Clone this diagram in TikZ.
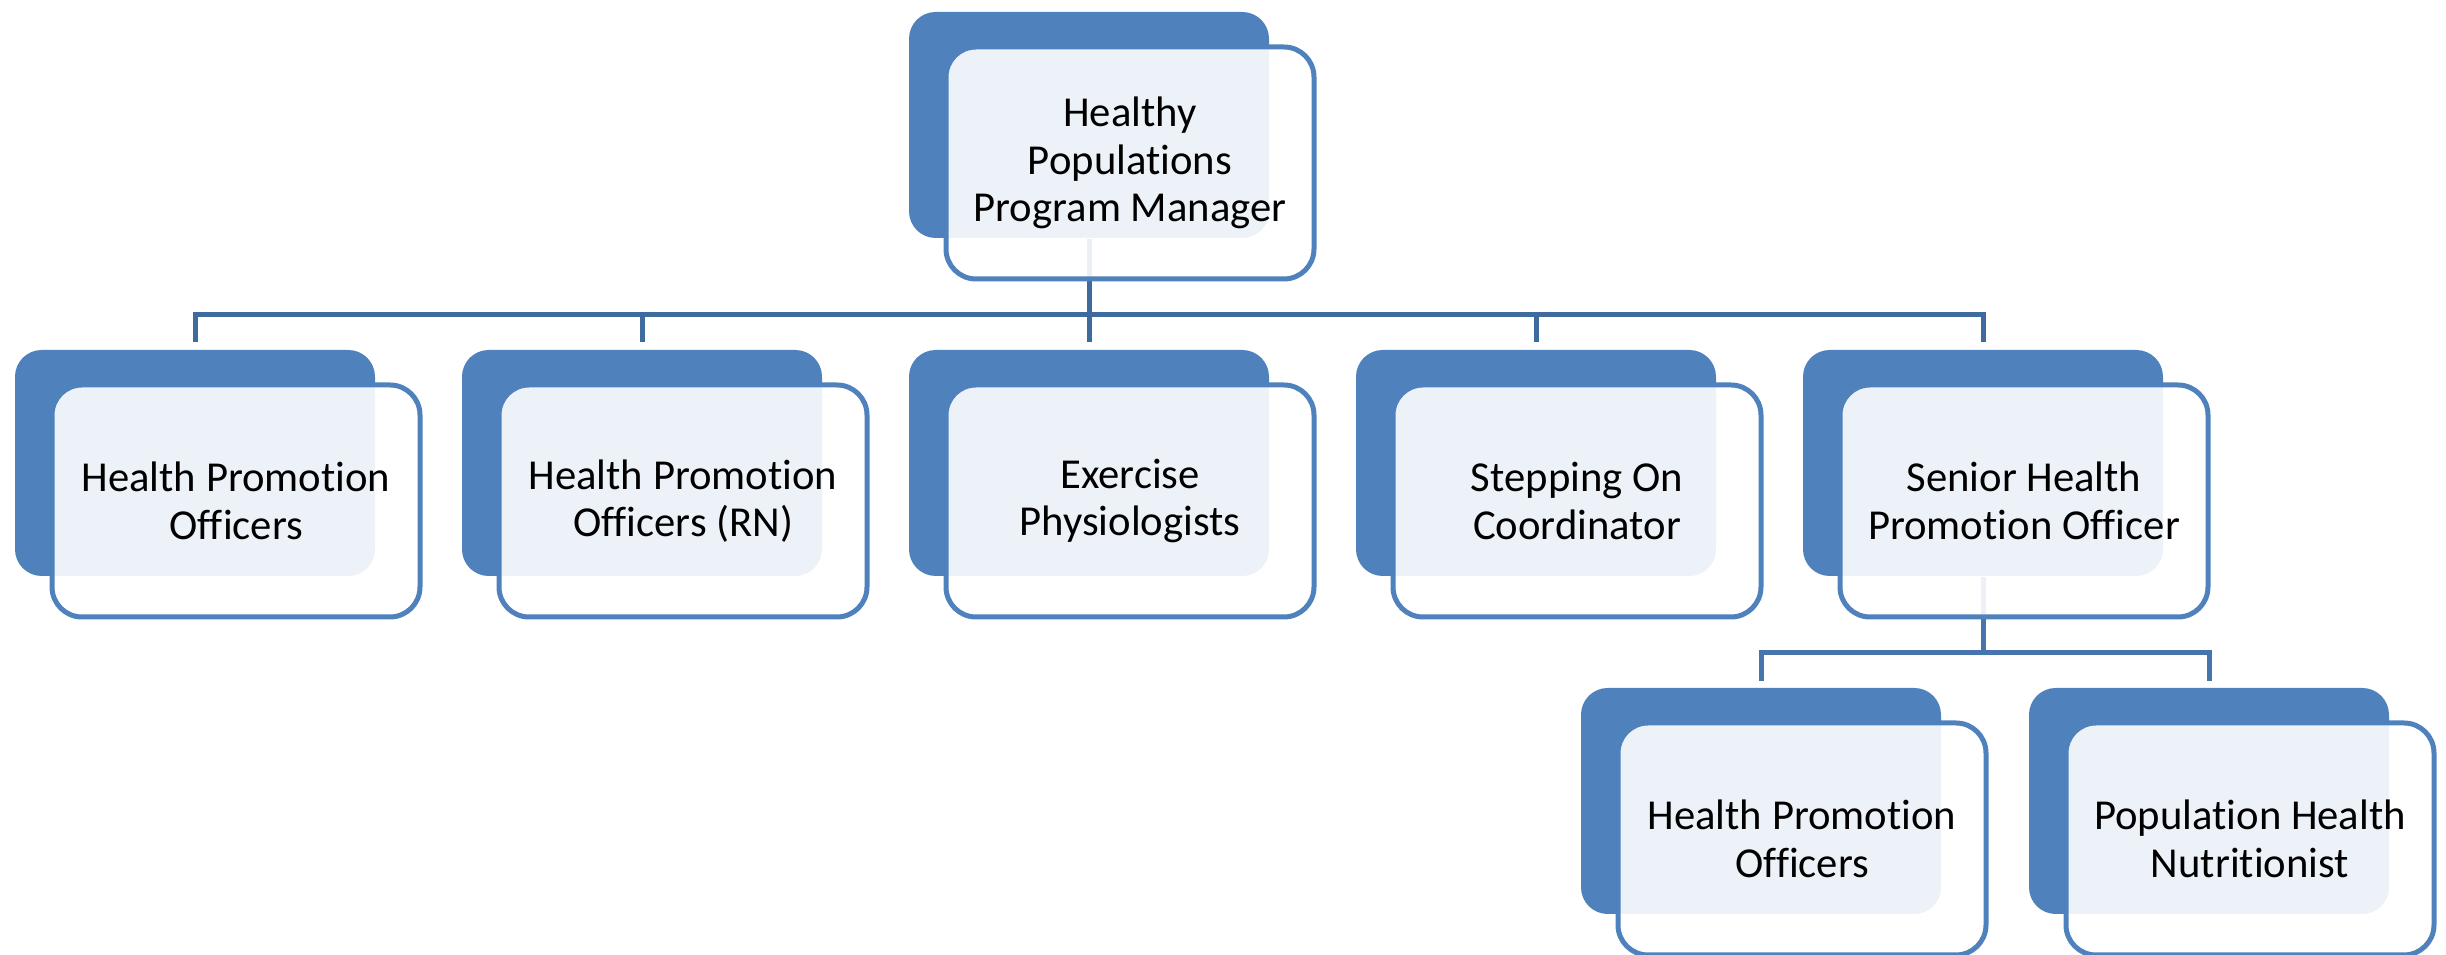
\documentclass[tikz,border=0pt]{standalone}
\usepackage{fontspec}
\setmainfont{Carlito}[Ligatures=NoCommon]
\definecolor{boxblue}{HTML}{4F81BD}
\definecolor{linkblue}{HTML}{3F6A9E}
\definecolor{sublinkblue}{HTML}{4874AE}
\begin{document}
\begin{tikzpicture}[
x=0.3pt, y=0.3pt,
backbox/.style={rectangle, rounded corners=8pt, fill=boxblue, minimum width=108pt, minimum height=67.8pt, inner sep=0pt},
frontbox/.style={rectangle, rounded corners=9pt, draw=boxblue, line width=1.5pt, fill=white, fill opacity=0.9, text opacity=1, minimum width=110.4pt, minimum height=69.6pt, inner sep=0pt, align=center, font=\fontsize{12.8}{14.2}\selectfont},
link/.style={draw=linkblue, line width=1.5pt},
sublink/.style={draw=sublinkblue, line width=1.5pt},
]
\useasboundingbox (0,0) rectangle (2446,-955);

%Back boxes
\node[backbox] (mgr-b) at (1089, -125) {};
\node[backbox] (hpo-b) at (195, -463) {};
\node[backbox] (rn-b)  at (642, -463) {};
\node[backbox] (ep-b)  at (1089, -463) {};
\node[backbox] (so-b)  at (1536, -463) {};
\node[backbox] (shpo-b) at (1983, -463) {};
\node[backbox] (hpo2-b) at (1761, -801) {};
\node[backbox] (phn-b) at (2209, -801) {};

%Connections manager -- level 1
\draw[link] (mgr-b.south) -- ++(0,-76) -| ([yshift=2.1pt]hpo-b.north);
\draw[link] (mgr-b.south) -- ++(0,-76) -| ([yshift=2.1pt]rn-b.north);
\draw[link] (mgr-b.south) -- ([yshift=2.1pt]ep-b.north);
\draw[link] (mgr-b.south) -- ++(0,-76) -| ([yshift=2.1pt]so-b.north);
\draw[link] (mgr-b.south) -- ++(0,-76) -| ([yshift=2.1pt]shpo-b.north);

%Connections senior officer -- level 2
\draw[sublink] (shpo-b.south) -- ++(0,-76) -| ([yshift=1.8pt]hpo2-b.north);
\draw[sublink] (shpo-b.south) -- ++(0,-76) -| ([yshift=1.8pt]phn-b.north);

%Front boxes
\node[frontbox] (mgr) at ([shift={(41,-38)}]mgr-b) {Healthy\\Populations\\Program Manager};
\node[frontbox] (hpo) at ([shift={(41,-38)}]hpo-b) {Health Promotion\\Officers};
\node[frontbox] (rn)  at ([shift={(41,-38)}]rn-b) {Health Promotion\\Officers (RN)};
\node[frontbox] (ep)  at ([shift={(41,-38)}]ep-b) {Exercise\\Physiologists};
\node[frontbox] (so)  at ([shift={(41,-38)}]so-b) {Stepping On\\Coordinator};
\node[frontbox] (shpo) at ([shift={(41,-38)}]shpo-b) {Senior Health\\Promotion Officer};
\node[frontbox] (hpo2) at ([shift={(41,-38)}]hpo2-b) {Health Promotion\\Officers};
\node[frontbox] (phn) at ([shift={(41,-38)}]phn-b) {Population Health\\Nutritionist};
\end{tikzpicture}
\end{document}
